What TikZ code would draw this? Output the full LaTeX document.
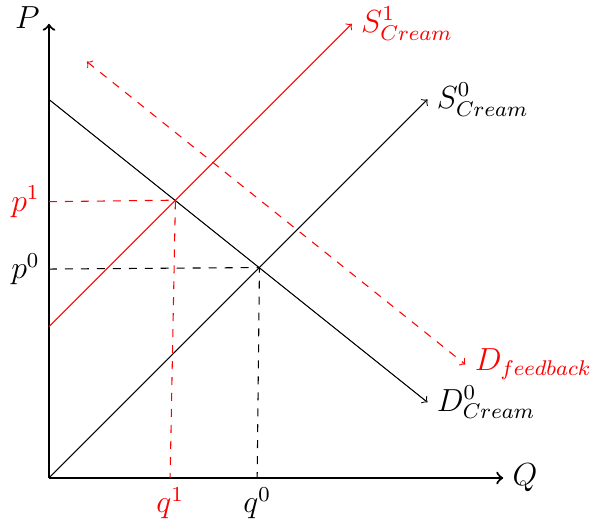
\documentclass[tikz,border=0pt]{standalone}
\usetikzlibrary{arrows}
\begin{document}
\begin{tikzpicture}[
  axisline/.style={thick,->},
  curve/.style={->},
  lbl/.style={font=\large},
  guide/.style={dashed}
]
\useasboundingbox (-0.647,-0.594) rectangle (7.186,6.314);
% coordinates
\coordinate (O) at (0,0);
\coordinate (Ytop) at (0,6);
\coordinate (Xend) at (6,0);
\coordinate (Dstart) at (0,5);
\coordinate (Dend) at (5,1);
\coordinate (S0end) at (5,5);
\coordinate (S1start) at (0,2);
\coordinate (S1end) at (4,6);
\coordinate (DFa) at (0.5,5.5);
\coordinate (DFb) at (5.5,1.5);
\coordinate (E0) at (2.78,2.78);
\coordinate (E1) at (1.67,3.67);
\coordinate (p0) at (0,2.76);
\coordinate (q0) at (2.75,0);
\coordinate (p1) at (0,3.65);
\coordinate (q1) at (1.60,0);
% axes
\draw[axisline] (O) -- (Ytop);
\draw[axisline] (O) -- (Xend);
\node[lbl,left] (Plab) at (0,6.08) {$P$};
\node[lbl,right] (Qlab) at (Xend) {$Q$};
% curves
\draw[curve] (Dstart) -- (Dend) node[lbl,right] (D0lab) {$D^0_{Cream}$};
\draw[curve] (O) -- (S0end) node[lbl,right] (S0lab) {$S^0_{Cream}$};
\draw[curve,red] (S1start) -- (S1end) node[lbl,right] (S1lab) {$S^1_{Cream}$};
\draw[<->,red,dashed] (DFa) -- (DFb) node[lbl,right] (DFlab) {$D_{feedback}$};
% guides
\draw[guide] (p0) -- (E0) -- (q0);
\draw[guide,red] (p1) -- (E1) -- (q1);
\node[lbl,left] (p0lab) at (p0) {$p^0$};
\node[lbl,left,red] (p1lab) at (p1) {$p^1$};
\node[lbl,below] (q0lab) at (q0) {$q^0$};
\node[lbl,below,red] (q1lab) at (q1) {$q^1$};
\end{tikzpicture}
\end{document}
